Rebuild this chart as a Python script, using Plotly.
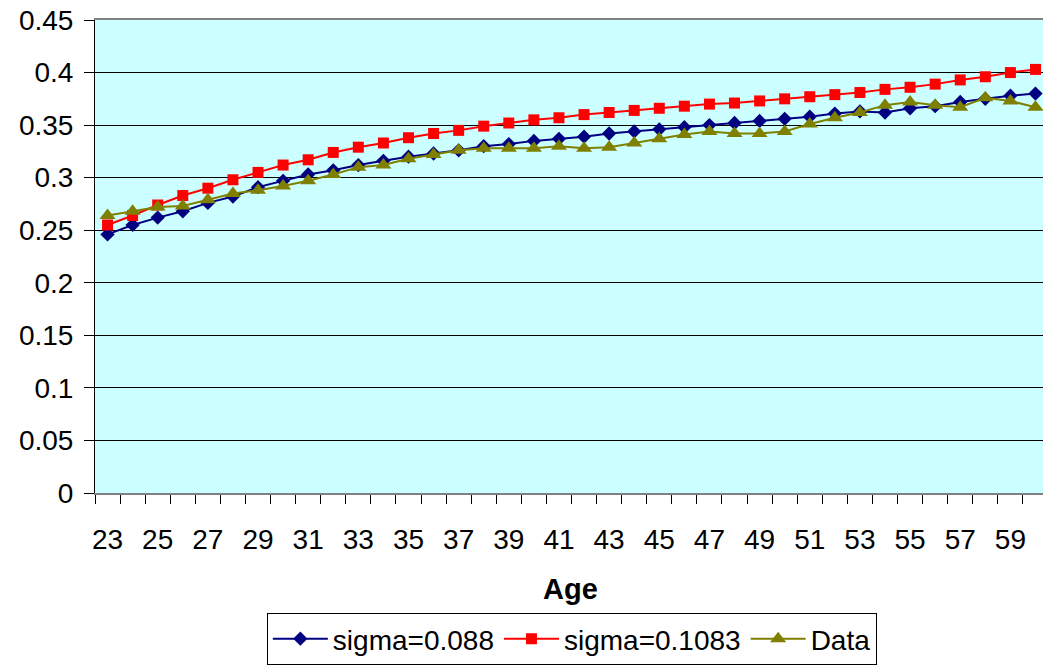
import plotly.graph_objects as go

ages = list(range(23, 61))

sigma_088 = [0.246, 0.255, 0.262, 0.268, 0.276, 0.282, 0.291, 0.297, 0.303, 0.307,
             0.312, 0.316, 0.320, 0.323, 0.326, 0.330, 0.332, 0.335, 0.337, 0.339,
             0.342, 0.344, 0.346, 0.348, 0.350, 0.352, 0.354, 0.356, 0.358, 0.361,
             0.363, 0.362, 0.366, 0.368, 0.372, 0.375, 0.378, 0.380]

sigma_1083 = [0.255, 0.264, 0.274, 0.283, 0.290, 0.298, 0.305, 0.312, 0.317, 0.324,
              0.329, 0.333, 0.338, 0.342, 0.345, 0.349, 0.352, 0.355, 0.357, 0.360,
              0.362, 0.364, 0.366, 0.368, 0.370, 0.371, 0.373, 0.375, 0.377, 0.379,
              0.381, 0.384, 0.386, 0.389, 0.393, 0.396, 0.400, 0.403]

data_vals = [0.264, 0.268, 0.272, 0.273, 0.279, 0.285, 0.288, 0.292, 0.297, 0.303,
             0.310, 0.312, 0.318, 0.322, 0.326, 0.328, 0.328, 0.328, 0.330, 0.328,
             0.329, 0.333, 0.337, 0.341, 0.344, 0.342, 0.342, 0.344, 0.351, 0.357,
             0.362, 0.369, 0.372, 0.369, 0.367, 0.376, 0.373, 0.367]

tick_labels = [str(a) for a in range(23, 60, 2)]

FONT = "Liberation Sans, Arial, sans-serif"

fig = go.Figure()
fig.add_trace(go.Scatter(x=ages, y=sigma_088, name="sigma=0.088", mode="lines+markers",
                         line=dict(color="#000080", width=2),
                         marker=dict(symbol="diamond", size=11, color="#000080")))
fig.add_trace(go.Scatter(x=ages, y=sigma_1083, name="sigma=0.1083", mode="lines+markers",
                         line=dict(color="#FF0000", width=2),
                         marker=dict(symbol="square", size=11, color="#FF0000")))
fig.add_trace(go.Scatter(x=ages, y=data_vals, name="Data", mode="lines+markers",
                         line=dict(color="#808000", width=2),
                         marker=dict(symbol="triangle-up", size=14, color="#808000")))

fig.update_layout(
    width=1043, height=665,
    margin=dict(l=95, r=0, t=20, b=170),
    paper_bgcolor="white",
    plot_bgcolor="#CCFFFF",
    font=dict(family=FONT, size=28, color="black"),
    showlegend=True,
    legend=dict(orientation="h", x=0.503, xanchor="center", y=-0.254, yanchor="top",
                bgcolor="white", bordercolor="black", borderwidth=1,
                font=dict(family=FONT, size=28, color="black"),
                itemwidth=55, tracegroupgap=0),
    annotations=[dict(text="<b>Age</b>", x=0.502, y=-0.204, xref="paper", yref="paper",
                      xanchor="center", yanchor="middle", showarrow=False,
                      font=dict(family=FONT, size=29, color="black"))],
)

fig.update_xaxes(
    range=[22.5, 60.3],
    tickmode="array", tickvals=list(range(23, 60, 2)), ticktext=tick_labels,
    ticks="", showgrid=False, zeroline=False,
    showline=True, linecolor="#808080", linewidth=2, mirror=True,
    ticklabelstandoff=20,
    tickfont=dict(family=FONT, size=28, color="black"),
    minor=dict(tickmode="linear", tick0=22.5, dtick=1, ticks="outside", ticklen=9,
               tickcolor="black", tickwidth=1, showgrid=False),
)

fig.update_yaxes(
    range=[0, 0.45], dtick=0.05, tick0=0,
    showgrid=True, gridcolor="black", gridwidth=1,
    zeroline=False, showline=True, linecolor="black", linewidth=1,
    ticks="outside", ticklen=10, tickcolor="black",
    ticklabelstandoff=5,
    tickfont=dict(family=FONT, size=28, color="black"),
)

fig.write_html("out.html")
